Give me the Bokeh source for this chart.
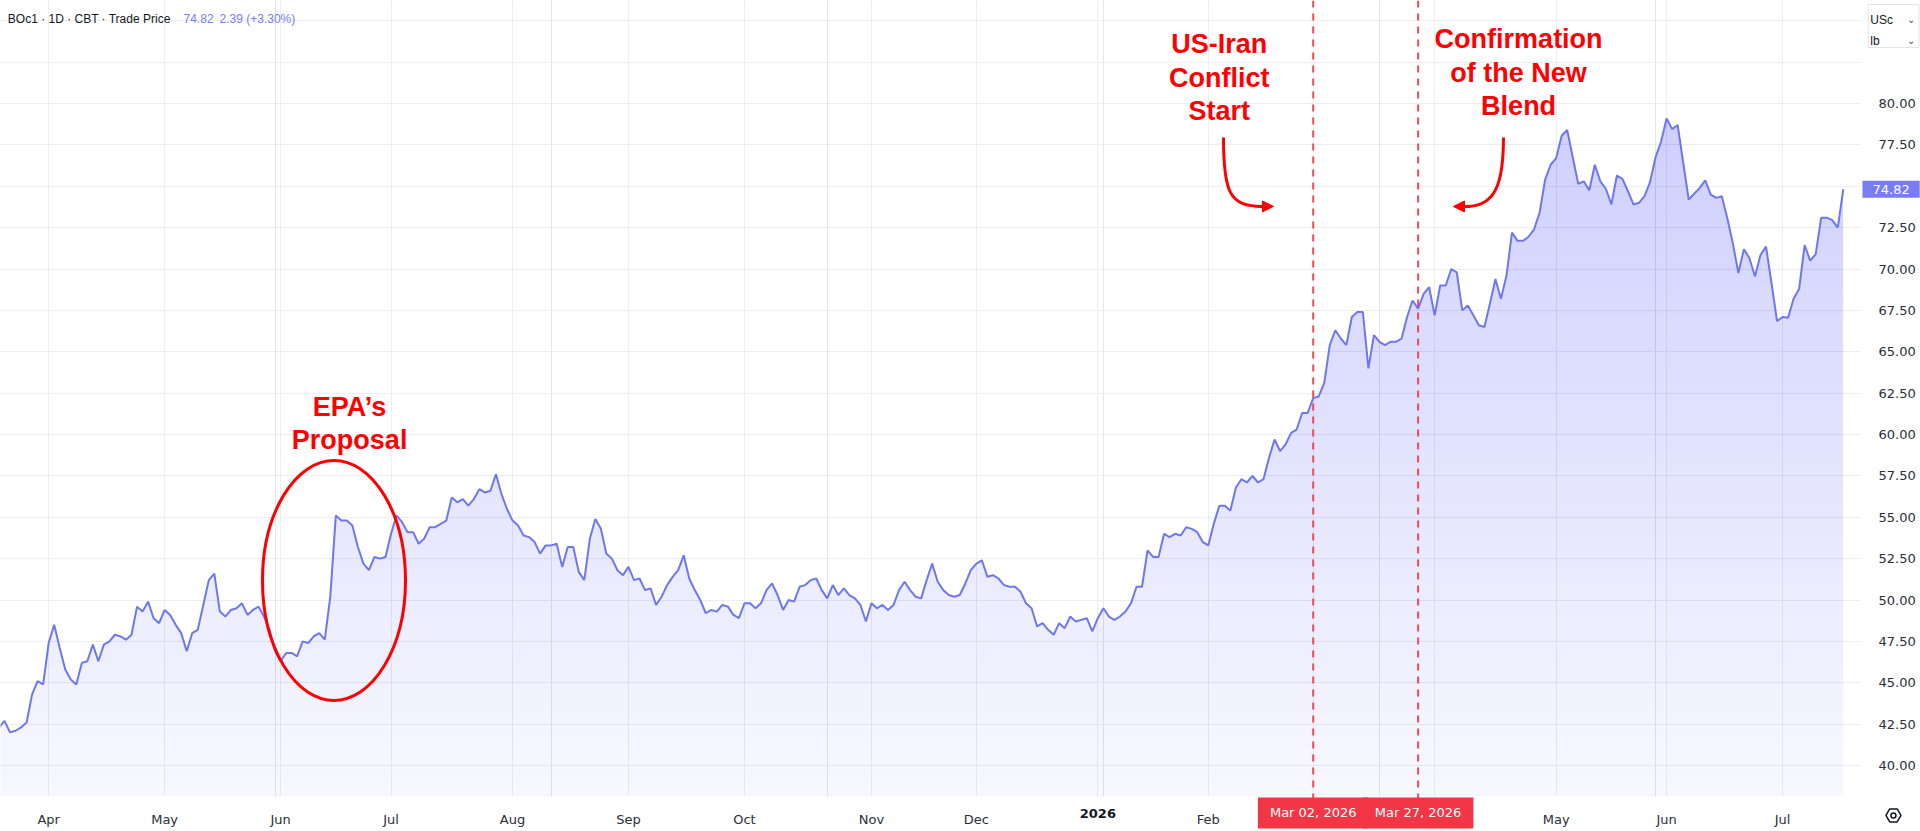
import numpy as np
from bokeh.plotting import figure
from bokeh.models import (Range1d, FixedTicker, NumeralTickFormatter, Span, Label, Arrow,
                          NormalHead, LinearAxis, Grid)
from bokeh.core.properties import value
from bokeh.embed import file_html
from bokeh.resources import INLINE

# ---------------- data (BOc1 daily closes, one value per trading bar) ----------------
prices_mar_jun_2025 = [42.3, 42.7, 42.0, 42.1, 42.3, 42.6, 44.3, 45.1, 44.9, 47.4, 48.5,
                       47.1, 45.8, 45.2, 44.9, 46.2, 46.3, 47.3, 46.3, 47.3, 47.5,
                       47.9, 47.8, 47.6, 47.9, 49.6, 49.3, 49.9, 48.9, 48.6, 49.4,
                       49.1, 48.5, 48.0, 46.9, 48.0, 48.2, 49.7, 51.2, 51.6, 49.3,
                       49.0, 49.4, 49.5, 49.8, 49.1, 49.4, 49.6, 49.0, 48.2, 46.9,
                       46.3, 46.8, 46.8, 46.6, 47.5, 47.4, 47.8, 48.0]
prices_jun_sep_2025 = [47.6, 50.2, 55.1, 54.8, 54.8, 54.5, 53.2, 52.2, 51.8, 52.6,
                       52.5, 52.6, 54.0, 55.1, 54.7, 54.1, 54.1, 53.4, 53.7, 54.4,
                       54.4, 54.6, 54.8, 56.2, 55.9, 56.1, 55.7, 56.1, 56.7, 56.5,
                       56.6, 57.6, 56.4, 55.5, 54.8, 54.5, 53.9, 53.8, 53.5, 52.8,
                       53.3, 53.3, 53.4, 52.0, 53.2, 53.2, 51.7, 51.2, 53.7, 54.9,
                       54.3, 52.8, 52.5, 51.8, 51.5, 52.0]
prices_sep_nov_2025 = [51.2, 51.3, 50.6, 50.7, 49.7, 50.2, 50.9, 51.4, 51.8, 52.7,
                       51.3, 50.6, 50.0, 49.2, 49.4, 49.3, 49.7, 49.6, 49.1, 48.9,
                       49.8, 49.8, 49.5, 49.8, 50.6, 51.0, 50.3, 49.4, 50.0, 49.9,
                       50.8, 50.9, 51.2, 51.3, 50.6, 50.1, 50.9, 50.3, 50.7, 50.3,
                       50.1, 49.7, 48.7, 49.8, 49.5, 49.7, 49.4, 49.7, 50.6, 51.1,
                       50.6, 50.2, 50.1, 51.2, 52.2, 51.1]
prices_nov_2025_feb_2026 = [50.6, 50.3, 50.2, 50.3, 51.0, 51.8, 52.2, 52.4, 51.4, 51.5,
                            51.3, 50.9, 50.8, 50.8, 50.5, 49.8, 49.5, 48.4, 48.6, 48.2,
                            47.9, 48.6, 48.3, 49.0, 48.7, 48.8, 48.9, 48.1, 48.9, 49.5,
                            49.0, 48.8, 49.0, 49.3, 49.8, 50.8, 50.8, 53.0, 52.6, 52.6,
                            54.0, 53.8, 54.0, 53.9, 54.4, 54.3, 54.1, 53.5, 53.3, 54.6,
                            55.7, 55.7, 55.4, 56.8, 57.3, 57.1]
prices_feb_apr_2026 = [57.5, 57.1, 57.3, 58.6, 59.7, 59.0, 59.4, 60.1, 60.3, 61.3,
                       61.3, 62.2, 62.3, 63.1, 65.4, 66.3, 65.8, 65.4, 67.1, 67.4,
                       67.4, 64.0, 66.0, 65.6, 65.4, 65.6, 65.6, 65.8, 67.1, 68.1,
                       67.6, 68.5, 68.9, 67.2, 69.0, 69.0, 70.0, 69.8, 67.5, 67.8,
                       67.2, 66.6, 66.5, 67.9, 69.4, 68.2, 69.6, 72.2, 71.7, 71.7,
                       71.95, 72.4, 73.4, 75.4]
prices_apr_jul_2026 = [76.3, 76.7, 78.05, 78.4, 76.75, 75.15, 75.3, 74.75, 76.3, 75.3,
                       74.85, 73.9, 75.65, 75.45, 74.7, 73.9, 74.0, 74.4, 75.25, 76.75,
                       77.7, 79.1, 78.45, 78.7, 76.45, 74.2, 74.55, 74.9, 75.35, 74.5,
                       74.3, 74.4, 73.05, 71.55, 69.75, 71.2, 70.65, 69.55, 70.85, 71.35,
                       69.15, 66.85, 67.1, 67.05, 68.2, 68.8, 71.45, 70.5, 70.9, 73.1,
                       73.1, 72.95, 72.5, 74.82]

# first trading bar of each month (bar index) and its label
month_ticks = [9, 30, 51, 71, 93, 114, 135, 158, 177, 199, 219, 238, 260, 282, 302, 323]
month_labels = ["Apr", "May", "Jun", "Jul", "Aug", "Sep", "Oct", "Nov", "Dec",
                "2026", "Feb", "Mar", "Apr", "May", "Jun", "Jul"]
price_ticks = [40.0, 42.5, 45.0, 47.5, 50.0, 52.5, 55.0, 57.5, 60.0, 62.5, 65.0,
               67.5, 70.0, 72.5, 75.0, 77.5, 80.0]
grid_levels = price_ticks + [82.5, 85.0]

event_bars = [238, 257]
event_dates = ["Mar 02, 2026", "Mar 27, 2026"]
last_price = 74.82
change_text = "2.39 (+3.30%)"

prices = np.array(prices_mar_jun_2025 + prices_jun_sep_2025 + prices_sep_nov_2025 +
                  prices_nov_2025_feb_2026 + prices_feb_apr_2026 + prices_apr_jul_2026)
bars = np.arange(len(prices))

# ---------------- figure: the frame covers the whole canvas, axes are pinned inside ----------------
X_LO, X_HI = 0.2756, 347.98      # visible bars
Y_LO, Y_HI = 36.012, 86.224      # visible prices
PANE_RIGHT = 337.11              # bar where the price scale starts
PANE_BOTTOM = 38.127             # price where the time scale starts

p = figure(frame_width=1920, frame_height=831,
           x_range=Range1d(X_LO, X_HI), y_range=Range1d(Y_LO, Y_HI),
           output_backend="svg", toolbar_location=None,
           x_axis_location=None, y_axis_location=None,
           min_border=0, outline_line_color=None,
           background_fill_color="#ffffff", border_fill_color="#ffffff")

AXIS_FONT = "DejaVu Sans"
AXIS_COLOR = "#2a2e39"
GRID_COLOR = "#eceef3"

p.add_layout(Grid(dimension=0, ticker=FixedTicker(ticks=month_ticks), grid_line_color=GRID_COLOR))
p.add_layout(Grid(dimension=1, ticker=FixedTicker(ticks=grid_levels), grid_line_color=GRID_COLOR))

# mask the scale areas (outside the price pane)
p.quad(left=[PANE_RIGHT, X_LO], right=[X_HI, X_HI], bottom=[Y_LO, Y_LO], top=[Y_HI, PANE_BOTTOM],
       fill_color="#ffffff", line_color=None)

xaxis = LinearAxis(fixed_location=PANE_BOTTOM, ticker=FixedTicker(ticks=month_ticks))
overrides = {}
for t, lab in zip(month_ticks, month_labels):
    overrides[t] = "" if (lab == "2026" or t in event_bars or t == 260) else lab
xaxis.major_label_overrides = overrides
xaxis.axis_line_color = None
xaxis.major_tick_line_color = None
xaxis.minor_tick_line_color = None
xaxis.major_label_standoff = 10
xaxis.major_label_text_font = AXIS_FONT
xaxis.major_label_text_font_size = "13px"
xaxis.major_label_text_color = AXIS_COLOR
p.add_layout(xaxis, "below")

yaxis = LinearAxis(fixed_location=PANE_RIGHT, ticker=FixedTicker(ticks=price_ticks),
                   formatter=NumeralTickFormatter(format="0.00"))
yaxis.major_label_overrides = {75.0: ""}
yaxis.axis_line_color = None
yaxis.major_tick_line_color = None
yaxis.minor_tick_line_color = None
yaxis.major_label_standoff = 12
yaxis.major_label_text_font = AXIS_FONT
yaxis.major_label_text_font_size = "13px"
yaxis.major_label_text_color = AXIS_COLOR
p.add_layout(yaxis, "right")

# ---------------- area with vertical gradient (stacked translucent layers) ----------------
FILL = "#626cee"
p.varea(x=bars, y1=np.full(len(prices), PANE_BOTTOM), y2=prices, fill_color=FILL, fill_alpha=0.05)
for level in range(39, 80):
    p.varea(x=bars, y1=np.full(len(prices), float(level)), y2=np.maximum(prices, level),
            fill_color=FILL, fill_alpha=0.0037)

p.line(bars, prices, line_color="#6f77f0", line_width=2)

# ---------------- event lines ----------------
for b in event_bars:
    p.add_layout(Span(location=b, dimension="height", line_color="#f23645",
                      line_dash="7 6", line_width=2, line_alpha=0.9))

# ---------------- annotations ----------------
RED = "#ff0000"
ann_font = value("Liberation Sans")
p.text(x=[63.5, 63.5], y=[61.69, 59.64], text=["EPA\u2019s", "Proposal"],
       text_font=ann_font, text_font_style="bold", text_font_size="27px",
       text_color=RED, text_align="center", text_baseline="alphabetic")
p.text(x=[221.0, 221.0, 221.0], y=[83.62, 81.57, 79.52], text=["US-Iran", "Conflict", "Start"],
       text_font=ann_font, text_font_style="bold", text_font_size="27px",
       text_color=RED, text_align="center", text_baseline="alphabetic")
p.text(x=[275.2, 275.2, 275.2], y=[83.87, 81.87, 79.82],
       text=["Confirmation", "of the New", "Blend"],
       text_font=ann_font, text_font_style="bold", text_font_size="27px",
       text_color=RED, text_align="center", text_baseline="alphabetic")

p.ellipse(x=[60.67], y=[51.18], width=[25.9], height=[14.5],
          fill_color=None, line_color=RED, line_width=3)

# curved arrows
p.bezier(x0=[221.75, 272.46], y0=[77.95, 77.95],
         x1=[228.8, 265.8], y1=[73.78, 73.78],
         cx0=[221.75, 272.46], cy0=[74.62, 75.05],
         cx1=[222.84, 270.83], cy1=[73.78, 73.78],
         line_color=RED, line_width=3)
p.add_layout(Arrow(end=NormalHead(size=11, fill_color=RED, line_color=RED),
                   x_start=228.0, y_start=73.78, x_end=230.8, y_end=73.78,
                   line_color=RED, line_width=3))
p.add_layout(Arrow(end=NormalHead(size=11, fill_color=RED, line_color=RED),
                   x_start=266.5, y_start=73.78, x_end=263.4, y_end=73.78,
                   line_color=RED, line_width=3))

# header legend
p.text(x=[1.6], y=[85.12], text=["BOc1 \u00b7 1D \u00b7 CBT \u00b7 Trade Price"],
       text_font=value("Liberation Sans"), text_font_size="12px", text_color="#131722",
       text_baseline="alphabetic")
p.text(x=[33.42, 39.94], y=[85.12, 85.12], text=[f"{last_price:.2f}", change_text],
       text_font=value("Liberation Sans"), text_font_size="12px", text_color="#787cf5",
       text_baseline="alphabetic")

# unit selector (top right)
p.quad(left=[338.5], right=[347.7], top=[85.98], bottom=[83.38],
       fill_color="#ffffff", line_color="#e0e3eb", line_width=1)
p.text(x=[338.9, 338.9], y=[85.02, 83.75], text=["USc", "lb"],
       text_font=value("Liberation Sans"), text_font_size="12px", text_color="#131722",
       text_baseline="alphabetic")
p.text(x=[346.3, 346.3], y=[85.05, 83.78], text=["\u2304", "\u2304"],
       text_font=value("DejaVu Sans"), text_font_size="10px", text_color="#50535e",
       text_align="center", text_baseline="alphabetic")

# settings icon (bottom right corner)
p.scatter(x=[343.08], y=[36.98], marker="hex", size=15, fill_color=None,
          line_color="#131722", line_width=1.5)
p.scatter(x=[343.08], y=[36.98], marker="circle", size=5, fill_color=None,
          line_color="#131722", line_width=1.5)

# last price badge on the price scale
p.add_layout(Label(x=337.47, y=last_price, text=f"{last_price:.2f}", text_align="left",
                   text_baseline="middle", text_font=AXIS_FONT, text_font_size="13px",
                   text_color="#ffffff", background_fill_color="#787cf5",
                   padding=(10, 4)))

# bold year label and event date badges on the time scale
p.add_layout(Label(x=199, y=37.10, text="2026", text_align="center", text_baseline="middle",
                   text_font=AXIS_FONT, text_font_size="13px", text_font_style="bold",
                   text_color="#131722"))
for b, d in zip(event_bars, event_dates):
    p.add_layout(Label(x=b, y=37.13, text=d, text_align="center", text_baseline="middle",
                       text_font=AXIS_FONT, text_font_size="13px", text_color="#ffffff",
                       background_fill_color="#f23645", padding=(12, 8)))

open("out.html", "w").write(file_html(p, INLINE))
